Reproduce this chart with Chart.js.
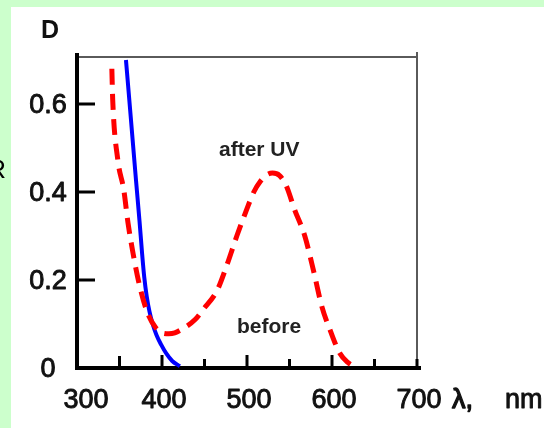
<!DOCTYPE html>
<html><head><meta charset="utf-8">
<script src="https://cdn.jsdelivr.net/npm/chart.js@4"></script>
<style>
html,body{margin:0;padding:0;background:#ccffcc;overflow:hidden;}
#wrap{position:absolute;left:0;top:0;width:544px;height:428px;}
</style></head><body>
<div id="wrap"><canvas id="c" width="544" height="428"></canvas></div>
<script>
// ---- data ----
const xTicks = [300, 400, 500, 600, 700];
const xMinorTicks = [350, 450, 550, 650];
const yTicks = [0, 0.2, 0.4, 0.6];
const yTickLabels = ['0', '0.2', '0.4', '0.6'];

// after UV (red dashed)
const afterX = [341, 342, 348, 355, 360, 366, 374, 383, 392, 400, 408, 415, 425, 439, 448, 465, 476, 488, 499, 508, 516, 524, 530, 538, 546, 556, 568, 579, 588, 598, 609, 619, 627];
const afterY = [0.68, 0.61, 0.473, 0.405, 0.33, 0.26, 0.184, 0.125, 0.093, 0.08, 0.078, 0.08, 0.09, 0.11, 0.132, 0.177, 0.232, 0.30, 0.357, 0.40, 0.425, 0.44, 0.443, 0.438, 0.415, 0.36, 0.30, 0.215, 0.14, 0.085, 0.034, 0.012, 0.002];

// before (blue solid)
const beforeX = [357.6, 363.5, 369.4, 373.5, 376.6, 379.2, 382.0, 385.3, 389.0, 393.5, 399, 405, 412, 421];
const beforeY = [0.700, 0.564, 0.427, 0.335, 0.260, 0.205, 0.163, 0.128, 0.100, 0.075, 0.053, 0.033, 0.016, 0.004];

const pts = (xs, ys) => xs.map((x, i) => ({x: x, y: ys[i]}));

const FONT = '"Liberation Sans", Arial, sans-serif';

function boldText(ctx, s, x, y, w) {
  ctx.lineWidth = w;
  ctx.strokeText(s, x, y);
  ctx.fillText(s, x, y);
}

const framePlugin = {
  id: 'frame',
  beforeDraw(chart) {
    const ctx = chart.ctx;
    ctx.save();
    ctx.fillStyle = '#ccffcc';
    ctx.fillRect(0, 0, chart.width, chart.height);
    ctx.fillStyle = '#ffffff';
    ctx.fillRect(11, 7, chart.width - 11, chart.height - 7);
    ctx.restore();
  },
  beforeDatasetsDraw(chart) {
    const ctx = chart.ctx, xs = chart.scales.x, ys = chart.scales.y;
    const x0 = xs.getPixelForValue(300), x1 = xs.getPixelForValue(700);
    const y0 = ys.getPixelForValue(0), yTop = chart.chartArea.top;
    ctx.save();
    ctx.lineCap = 'butt';
    // top & right border (grey)
    ctx.strokeStyle = '#5a5a5a';
    ctx.lineWidth = 2;
    ctx.beginPath();
    ctx.moveTo(x0, yTop); ctx.lineTo(x1, yTop);
    ctx.moveTo(x1, yTop - 5); ctx.lineTo(x1, y0);
    ctx.stroke();
    // left axis & bottom axis (black)
    ctx.strokeStyle = '#000';
    ctx.lineWidth = 4;
    ctx.beginPath();
    ctx.moveTo(x0, yTop - 4); ctx.lineTo(x0, y0 + 2);
    ctx.moveTo(x0 - 2, y0); ctx.lineTo(x1 + 4, y0);
    ctx.stroke();
    // y ticks
    ctx.lineWidth = 3;
    ctx.beginPath();
    yTicks.forEach(v => {
      if (v === 0) return;
      const y = ys.getPixelForValue(v);
      ctx.moveTo(x0, y); ctx.lineTo(x0 + 18, y);
    });
    ctx.stroke();
    // x ticks
    ctx.beginPath();
    xTicks.forEach(v => {
      if (v === 300) return;
      const x = xs.getPixelForValue(v);
      ctx.moveTo(x, y0); ctx.lineTo(x, y0 - (v === 700 ? 9 : 13));
    });
    xMinorTicks.forEach(v => {
      const x = xs.getPixelForValue(v);
      ctx.moveTo(x, y0); ctx.lineTo(x, y0 - (v === 350 ? 12 : 9));
    });
    ctx.stroke();
    ctx.restore();
  },
  afterDraw(chart) {
    const ctx = chart.ctx, xs = chart.scales.x, ys = chart.scales.y;
    ctx.save();
    ctx.fillStyle = '#111';
    ctx.strokeStyle = '#111';
    ctx.lineJoin = 'round';
    ctx.textBaseline = 'middle';
    ctx.textAlign = 'center';
    ctx.font = '27px ' + FONT;
    yTicks.forEach((v, i) => {
      boldText(ctx, yTickLabels[i], 48, ys.getPixelForValue(v) + 2, 0.9);
    });
    xTicks.forEach(v => {
      boldText(ctx, String(v), xs.getPixelForValue(v) + (v === 300 ? 9 : 2), 401, 0.9);
    });
    ctx.textAlign = 'left';
    boldText(ctx, 'λ,', 452, 401, 1.3);
    boldText(ctx, 'nm', 505, 401, 0.9);
    ctx.font = 'bold 25px ' + FONT;
    ctx.fillText('D', 41, 31);
    ctx.font = 'bold 21px ' + FONT;
    ctx.fillStyle = '#222';
    ctx.fillText('after UV', 219, 150);
    ctx.fillText('before', 237, 327);
    ctx.fillStyle = '#000';
    ctx.font = '26px ' + FONT;
    ctx.textAlign = 'right';
    ctx.fillText('R', 6, 171);
    ctx.restore();
  }
};

new Chart(document.getElementById('c'), {
  type: 'line',
  data: {
    datasets: [
      {
        label: 'after UV',
        data: pts(afterX, afterY),
        borderColor: '#ff0000',
        borderWidth: 5,
        borderDash: [16, 9],
        pointRadius: 0,
        fill: false,
        cubicInterpolationMode: 'monotone'
      },
      {
        label: 'before',
        data: pts(beforeX, beforeY),
        borderColor: '#0000ff',
        borderWidth: 4,
        pointRadius: 0,
        fill: false,
        cubicInterpolationMode: 'monotone'
      }
    ]
  },
  options: {
    responsive: false,
    animation: false,
    devicePixelRatio: 1,
    layout: {padding: {left: 77, right: 127, top: 57, bottom: 60}},
    scales: {
      x: {type: 'linear', min: 300, max: 700, display: false},
      y: {type: 'linear', min: 0, max: 0.7068, display: false}
    },
    plugins: {legend: {display: false}, tooltip: {enabled: false}}
  },
  plugins: [framePlugin]
});
</script>
</body></html>
